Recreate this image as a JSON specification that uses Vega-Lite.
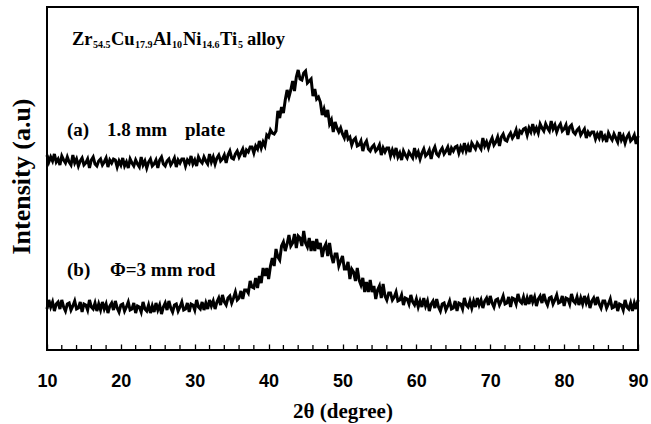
{
"$schema": "https://vega.github.io/schema/vega-lite/v6.json",
"width": 591, "height": 343,
"autosize": "none",
"padding": {"left": 47, "top": 7, "right": 13, "bottom": 74},
"background": "white",
"config": {"view": {"stroke": "black", "strokeWidth": 2}, "axis": {"grid": false, "domain": false}},
"datasets": {
"xrd": [
{"x":10,"a":195,"b":41},{"x":10.25,"a":188,"b":50},{"x":10.5,"a":193,"b":43},{"x":10.75,"a":189,"b":48},
{"x":11,"a":196,"b":39},{"x":11.25,"a":188,"b":46},{"x":11.5,"a":191,"b":48},{"x":11.75,"a":185,"b":41},
{"x":12,"a":194,"b":50},{"x":12.25,"a":190,"b":43},{"x":12.5,"a":187,"b":39},{"x":12.75,"a":193,"b":46},
{"x":13,"a":188,"b":47},{"x":13.25,"a":185,"b":40},{"x":13.5,"a":195,"b":44},{"x":13.75,"a":187,"b":49},
{"x":14,"a":191,"b":41},{"x":14.25,"a":184,"b":42},{"x":14.5,"a":189,"b":48},{"x":14.75,"a":192,"b":38},
{"x":15,"a":185,"b":46},{"x":15.25,"a":187,"b":45},{"x":15.5,"a":191,"b":40},{"x":15.75,"a":182,"b":50},
{"x":16,"a":190,"b":43},{"x":16.25,"a":193,"b":41},{"x":16.5,"a":186,"b":47},{"x":16.75,"a":184,"b":39},
{"x":17,"a":189,"b":46},{"x":17.25,"a":191,"b":40},{"x":17.5,"a":185,"b":48},{"x":17.75,"a":188,"b":41},
{"x":18,"a":192,"b":46},{"x":18.25,"a":183,"b":37},{"x":18.5,"a":190,"b":44},{"x":18.75,"a":187,"b":47},
{"x":19,"a":191,"b":40},{"x":19.25,"a":190,"b":49},{"x":19.5,"a":183,"b":42},{"x":19.75,"a":189,"b":38},
{"x":20,"a":185,"b":45},{"x":20.25,"a":192,"b":46},{"x":20.5,"a":184,"b":39},{"x":20.75,"a":188,"b":43},
{"x":21,"a":182,"b":48},{"x":21.25,"a":191,"b":40},{"x":21.5,"a":187,"b":41},{"x":21.75,"a":184,"b":47},
{"x":22,"a":190,"b":37},{"x":22.25,"a":186,"b":44},{"x":22.5,"a":183,"b":43},{"x":22.75,"a":193,"b":38},
{"x":23,"a":185,"b":48},{"x":23.25,"a":189,"b":41},{"x":23.5,"a":182,"b":39},{"x":23.75,"a":188,"b":45},
{"x":24,"a":191,"b":37},{"x":24.25,"a":184,"b":44},{"x":24.5,"a":186,"b":38},{"x":24.75,"a":190,"b":47},
{"x":25,"a":182,"b":40},{"x":25.25,"a":190,"b":45},{"x":25.5,"a":193,"b":36},{"x":25.75,"a":186,"b":43},
{"x":26,"a":184,"b":47},{"x":26.25,"a":189,"b":40},{"x":26.5,"a":191,"b":49},{"x":26.75,"a":185,"b":42},
{"x":27,"a":188,"b":38},{"x":27.25,"a":192,"b":45},{"x":27.5,"a":183,"b":46},{"x":27.75,"a":190,"b":39},
{"x":28,"a":187,"b":43},{"x":28.25,"a":191,"b":48},{"x":28.5,"a":191,"b":40},{"x":28.75,"a":184,"b":41},
{"x":29,"a":190,"b":47},{"x":29.25,"a":187,"b":38},{"x":29.5,"a":194,"b":46},{"x":29.75,"a":186,"b":45},
{"x":30,"a":190,"b":40},{"x":30.25,"a":184,"b":50},{"x":30.5,"a":193,"b":43},{"x":30.75,"a":189,"b":41},
{"x":31,"a":187,"b":48},{"x":31.25,"a":193,"b":40},{"x":31.5,"a":189,"b":47},{"x":31.75,"a":186,"b":41},
{"x":32,"a":196,"b":50},{"x":32.25,"a":188,"b":44},{"x":32.5,"a":193,"b":49},{"x":32.75,"a":186,"b":41},
{"x":33,"a":192,"b":48},{"x":33.25,"a":195,"b":52},{"x":33.5,"a":189,"b":45},{"x":33.75,"a":191,"b":55},
{"x":34,"a":195,"b":48},{"x":34.25,"a":187,"b":45},{"x":34.5,"a":195,"b":52},{"x":34.75,"a":199,"b":54},
{"x":35,"a":192,"b":47},{"x":35.25,"a":191,"b":52},{"x":35.5,"a":196,"b":58},{"x":35.75,"a":199,"b":50},
{"x":36,"a":193,"b":52},{"x":36.25,"a":197,"b":59},{"x":36.5,"a":201,"b":51},{"x":36.75,"a":193,"b":60},
{"x":37,"a":200,"b":60},{"x":37.25,"a":198,"b":57},{"x":37.5,"a":203,"b":69},{"x":37.75,"a":203,"b":63},
{"x":38,"a":197,"b":62},{"x":38.25,"a":204,"b":72},{"x":38.5,"a":201,"b":62},{"x":38.75,"a":209,"b":74},
{"x":39,"a":202,"b":67},{"x":39.25,"a":208,"b":82},{"x":39.5,"a":204,"b":74},{"x":39.75,"a":215,"b":82},
{"x":40,"a":213,"b":71},{"x":40.25,"a":220,"b":84},{"x":40.5,"a":217,"b":92},{"x":40.75,"a":216,"b":84},
{"x":41,"a":219,"b":101},{"x":41.25,"a":239,"b":93},{"x":41.5,"a":232,"b":90},{"x":41.75,"a":243,"b":104},
{"x":42,"a":237,"b":108},{"x":42.25,"a":250,"b":99},{"x":42.5,"a":260,"b":106},{"x":42.75,"a":253,"b":115},
{"x":43,"a":260,"b":104},{"x":43.25,"a":269,"b":107},{"x":43.5,"a":259,"b":116},{"x":43.75,"a":273,"b":102},
{"x":44,"a":280,"b":114},{"x":44.25,"a":271,"b":112},{"x":44.5,"a":270,"b":104},{"x":44.75,"a":277,"b":119},
{"x":45,"a":279,"b":107},{"x":45.25,"a":267,"b":103},{"x":45.5,"a":269,"b":112},{"x":45.75,"a":271,"b":99},
{"x":46,"a":254,"b":109},{"x":46.25,"a":261,"b":99},{"x":46.5,"a":251,"b":111},{"x":46.75,"a":253,"b":101},
{"x":47,"a":248,"b":107},{"x":47.25,"a":235,"b":93},{"x":47.5,"a":241,"b":102},{"x":47.75,"a":233,"b":106},
{"x":48,"a":240,"b":94},{"x":48.25,"a":226,"b":107},{"x":48.5,"a":230,"b":94},{"x":48.75,"a":218,"b":87},
{"x":49,"a":228,"b":96},{"x":49.25,"a":222,"b":96},{"x":49.5,"a":218,"b":84},{"x":49.75,"a":222,"b":89},
{"x":50,"a":216,"b":94},{"x":50.25,"a":212,"b":81},{"x":50.5,"a":220,"b":81},{"x":50.75,"a":211,"b":88},
{"x":51,"a":213,"b":71},{"x":51.25,"a":205,"b":81},{"x":51.5,"a":210,"b":78},{"x":51.75,"a":212,"b":69},
{"x":52,"a":204,"b":82},{"x":52.25,"a":205,"b":70},{"x":52.5,"a":209,"b":65},{"x":52.75,"a":199,"b":72},
{"x":53,"a":206,"b":58},{"x":53.25,"a":209,"b":68},{"x":53.5,"a":201,"b":58},{"x":53.75,"a":199,"b":70},
{"x":54,"a":203,"b":58},{"x":54.25,"a":205,"b":64},{"x":54.5,"a":199,"b":51},{"x":54.75,"a":201,"b":60},
{"x":55,"a":205,"b":64},{"x":55.25,"a":195,"b":52},{"x":55.5,"a":202,"b":66},{"x":55.75,"a":198,"b":54},
{"x":56,"a":202,"b":50},{"x":56.25,"a":202,"b":57},{"x":56.5,"a":194,"b":57},{"x":56.75,"a":200,"b":50},
{"x":57,"a":195,"b":53},{"x":57.25,"a":202,"b":58},{"x":57.5,"a":193,"b":49},{"x":57.75,"a":197,"b":50},
{"x":58,"a":190,"b":55},{"x":58.25,"a":199,"b":45},{"x":58.5,"a":195,"b":52},{"x":58.75,"a":192,"b":51},
{"x":59,"a":198,"b":46},{"x":59.25,"a":195,"b":55},{"x":59.5,"a":192,"b":48},{"x":59.75,"a":202,"b":45},
{"x":60,"a":194,"b":51},{"x":60.25,"a":198,"b":43},{"x":60.5,"a":191,"b":49},{"x":60.75,"a":197,"b":43},
{"x":61,"a":201,"b":52},{"x":61.25,"a":194,"b":44},{"x":61.5,"a":196,"b":49},{"x":61.75,"a":200,"b":39},
{"x":62,"a":191,"b":46},{"x":62.25,"a":199,"b":49},{"x":62.5,"a":203,"b":42},{"x":62.75,"a":196,"b":51},
{"x":63,"a":194,"b":43},{"x":63.25,"a":199,"b":39},{"x":63.5,"a":202,"b":46},{"x":63.75,"a":196,"b":47},
{"x":64,"a":199,"b":40},{"x":64.25,"a":203,"b":44},{"x":64.5,"a":195,"b":49},{"x":64.75,"a":202,"b":41},
{"x":65,"a":199,"b":42},{"x":65.25,"a":203,"b":49},{"x":65.5,"a":204,"b":39},{"x":65.75,"a":197,"b":47},
{"x":66,"a":203,"b":46},{"x":66.25,"a":199,"b":41},{"x":66.5,"a":207,"b":52},{"x":66.75,"a":199,"b":45},
{"x":67,"a":204,"b":43},{"x":67.25,"a":198,"b":49},{"x":67.5,"a":207,"b":42},{"x":67.75,"a":204,"b":49},
{"x":68,"a":201,"b":43},{"x":68.25,"a":207,"b":52},{"x":68.5,"a":204,"b":45},{"x":68.75,"a":201,"b":50},
{"x":69,"a":212,"b":42},{"x":69.25,"a":204,"b":49},{"x":69.5,"a":208,"b":52},{"x":69.75,"a":202,"b":45},
{"x":70,"a":208,"b":54},{"x":70.25,"a":212,"b":47},{"x":70.5,"a":205,"b":43},{"x":70.75,"a":208,"b":50},
{"x":71,"a":213,"b":51},{"x":71.25,"a":204,"b":45},{"x":71.5,"a":213,"b":49},{"x":71.75,"a":216,"b":54},
{"x":72,"a":210,"b":46},{"x":72.25,"a":209,"b":47},{"x":72.5,"a":214,"b":53},{"x":72.75,"a":217,"b":43},
{"x":73,"a":212,"b":52},{"x":73.25,"a":215,"b":51},{"x":73.5,"a":220,"b":46},{"x":73.75,"a":211,"b":56},
{"x":74,"a":219,"b":49},{"x":74.25,"a":217,"b":47},{"x":74.5,"a":221,"b":53},{"x":74.75,"a":222,"b":45},
{"x":75,"a":215,"b":52},{"x":75.25,"a":222,"b":46},{"x":75.5,"a":218,"b":55},{"x":75.75,"a":226,"b":48},
{"x":76,"a":218,"b":53},{"x":76.25,"a":222,"b":44},{"x":76.5,"a":217,"b":51},{"x":76.75,"a":226,"b":54},
{"x":77,"a":222,"b":47},{"x":77.25,"a":219,"b":56},{"x":77.5,"a":226,"b":49},{"x":77.75,"a":222,"b":45},
{"x":78,"a":219,"b":52},{"x":78.25,"a":229,"b":53},{"x":78.5,"a":221,"b":46},{"x":78.75,"a":225,"b":50},
{"x":79,"a":218,"b":55},{"x":79.25,"a":223,"b":47},{"x":79.5,"a":226,"b":48},{"x":79.75,"a":219,"b":54},
{"x":80,"a":221,"b":44},{"x":80.25,"a":225,"b":52},{"x":80.5,"a":215,"b":51},{"x":80.75,"a":223,"b":46},
{"x":81,"a":225,"b":56},{"x":81.25,"a":218,"b":49},{"x":81.5,"a":216,"b":47},{"x":81.75,"a":220,"b":53},
{"x":82,"a":222,"b":45},{"x":82.25,"a":215,"b":52},{"x":82.5,"a":218,"b":46},{"x":82.75,"a":221,"b":54},
{"x":83,"a":212,"b":47},{"x":83.25,"a":218,"b":52},{"x":83.5,"a":215,"b":42},{"x":83.75,"a":218,"b":49},
{"x":84,"a":218,"b":52},{"x":84.25,"a":211,"b":45},{"x":84.5,"a":216,"b":53},{"x":84.75,"a":212,"b":46},
{"x":85,"a":219,"b":42},{"x":85.25,"a":211,"b":49},{"x":85.5,"a":214,"b":49},{"x":85.75,"a":208,"b":42},
{"x":86,"a":217,"b":46},{"x":86.25,"a":213,"b":51},{"x":86.5,"a":210,"b":42},{"x":86.75,"a":216,"b":43},
{"x":87,"a":212,"b":49},{"x":87.25,"a":208,"b":39},{"x":87.5,"a":218,"b":46},{"x":87.75,"a":210,"b":45},
{"x":88,"a":214,"b":40},{"x":88.25,"a":207,"b":50},{"x":88.5,"a":213,"b":43},{"x":88.75,"a":216,"b":41},
{"x":89,"a":209,"b":47},{"x":89.25,"a":211,"b":39},{"x":89.5,"a":215,"b":47},{"x":89.75,"a":206,"b":41},
{"x":90,"a":214,"b":50}
],
"minor": [
{"x":12},{"x":14},{"x":16},{"x":18},{"x":22},{"x":24},{"x":26},{"x":28},
{"x":32},{"x":34},{"x":36},{"x":38},{"x":42},{"x":44},{"x":46},{"x":48},
{"x":52},{"x":54},{"x":56},{"x":58},{"x":62},{"x":64},{"x":66},{"x":68},
{"x":72},{"x":74},{"x":76},{"x":78},{"x":82},{"x":84},{"x":86},{"x":88}
],
"title": [
{"x":13.384,"y":305,"t":"Zr"},{"x":18.663,"y":305,"t":"Cu"},{"x":24.349,"y":305,"t":"Al"},
{"x":28.41,"y":305,"t":"Ni"},{"x":33.418,"y":305,"t":"Ti"},{"x":37.073,"y":305,"t":"alloy"}
],
"labels": [
{"x":12.71,"y":214,"t":"(a)"},{"x":18.12,"y":214,"t":"1.8 mm"},{"x":28.68,"y":214,"t":"plate"},
{"x":12.71,"y":74,"t":"(b)"},{"x":18.53,"y":74,"t":"Φ=3 mm rod"}
],
"small": [
{"x":16.227,"y":302,"t":"54.5"},{"x":21.912,"y":302,"t":"17.9"},{"x":26.921,"y":302,"t":"10"},
{"x":30.982,"y":302,"t":"14.6"},{"x":35.855,"y":302,"t":"5"}
]
},
"layer": [
{
"data": {"name": "xrd"},
"transform": [{"fold": ["a", "b"], "as": ["curve", "intensity"]}],
"mark": {"type": "line", "color": "black", "strokeWidth": 3},
"encoding": {
"x": {"field": "x", "type": "quantitative", "title": "2θ (degree)",
"scale": {"domain": [10, 90], "nice": false, "zero": false},
"axis": {"values": [10,20,30,40,50,60,70,80,90],
"tickSize": -6, "tickColor": "black", "tickWidth": 1.3,
"labelFont": "Liberation Sans", "labelFontWeight": "bold", "labelFontSize": 18, "labelColor": "black",
"labelPadding": 28, "labelOverlap": false, "labelFlush": false,
"titleFont": "Liberation Serif", "titleFontWeight": "bold", "titleFontSize": 21, "titleColor": "black",
"titleBaseline": "alphabetic", "titleY": 67}},
"y": {"field": "intensity", "type": "quantitative", "title": "Intensity (a.u)",
"scale": {"domain": [0, 343], "nice": false, "zero": false},
"axis": {"labels": false, "ticks": false,
"titleFont": "Liberation Serif", "titleFontWeight": "bold", "titleFontSize": 26, "titleColor": "black",
"titleAngle": -90, "titleAlign": "center", "titleBaseline": "middle", "titleX": -26, "titleY": 169}},
"detail": {"field": "curve", "type": "nominal"}
}
},
{
"data": {"name": "minor"},
"mark": {"type": "rule", "color": "black", "strokeWidth": 1.3},
"encoding": {
"x": {"field": "x", "type": "quantitative", "title": "2θ (degree)"},
"y": {"datum": 0},
"y2": {"datum": 5}
}
},
{
"data": {"name": "title"},
"mark": {"type": "text", "font": "Liberation Serif", "fontWeight": "bold", "fontSize": 18.5, "align": "left", "baseline": "alphabetic", "color": "black"},
"encoding": {
"x": {"field": "x", "type": "quantitative", "title": "2θ (degree)"},
"y": {"field": "y", "type": "quantitative", "title": "Intensity (a.u)"},
"text": {"field": "t"}
}
},
{
"data": {"name": "labels"},
"mark": {"type": "text", "font": "Liberation Serif", "fontWeight": "bold", "fontSize": 19, "align": "left", "baseline": "alphabetic", "color": "black"},
"encoding": {
"x": {"field": "x", "type": "quantitative", "title": "2θ (degree)"},
"y": {"field": "y", "type": "quantitative", "title": "Intensity (a.u)"},
"text": {"field": "t"}
}
},
{
"data": {"name": "small"},
"mark": {"type": "text", "font": "Liberation Serif", "fontWeight": "bold", "fontSize": 10, "align": "left", "baseline": "alphabetic", "color": "black"},
"encoding": {
"x": {"field": "x", "type": "quantitative", "title": "2θ (degree)"},
"y": {"field": "y", "type": "quantitative", "title": "Intensity (a.u)"},
"text": {"field": "t"}
}
}
]
}
